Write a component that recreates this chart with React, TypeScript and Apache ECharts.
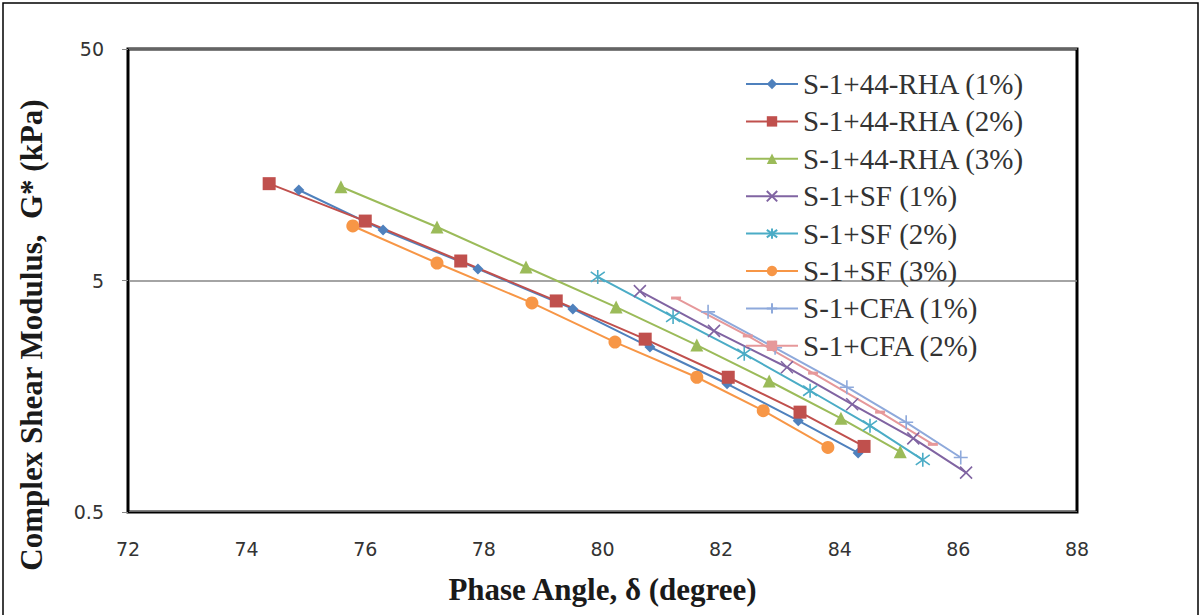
import React, { useEffect, useRef } from "react";
import * as echarts from "echarts";

const xTicks = [72, 88];
const yTickValues = [0.5, 5, 50];

const names = [
  "S-1+44-RHA (1%)",
  "S-1+44-RHA (2%)",
  "S-1+44-RHA (3%)",
  "S-1+SF (1%)",
  "S-1+SF (2%)",
  "S-1+SF (3%)",
  "S-1+CFA (1%)",
  "S-1+CFA (2%)",
];

const rha1X = [74.88, 76.3, 77.9, 79.5, 80.8, 82.1, 83.3, 84.31];
const rha1Y = [12.3, 8.26, 5.61, 3.77, 2.58, 1.79, 1.24, 0.9];

const rha2X = [74.38, 76.0, 77.61, 79.22, 80.72, 82.12, 83.33, 84.41];
const rha2Y = [13.1, 9.03, 6.07, 4.08, 2.79, 1.91, 1.35, 0.96];

const rha3X = [75.59, 77.21, 78.71, 80.23, 81.59, 82.81, 84.02, 85.02];
const rha3Y = [12.7, 8.51, 5.72, 3.84, 2.63, 1.84, 1.27, 0.91];

const sf1X = [80.63, 81.88, 83.11, 84.21, 85.24, 86.13];
const sf1Y = [4.5, 3.03, 2.11, 1.46, 1.04, 0.74];

const sf2X = [79.92, 81.19, 82.39, 83.5, 84.51, 85.4];
const sf2Y = [5.18, 3.48, 2.41, 1.67, 1.18, 0.84];

const sf3X = [75.79, 77.21, 78.81, 80.21, 81.59, 82.71, 83.8];
const sf3Y = [8.6, 5.95, 4.0, 2.71, 1.91, 1.37, 0.95];

const cfa1X = [81.78, 82.91, 84.12, 85.12, 86.04];
const cfa1Y = [3.66, 2.56, 1.73, 1.22, 0.86];

const cfa2X = [81.24, 82.45, 83.55, 84.68, 85.57];
const cfa2Y = [4.2, 2.88, 1.99, 1.35, 0.98];

const colors = ["#4F81BD", "#C0504D", "#9BBB59", "#8064A2", "#4BACC6", "#F79646", "#8EA9DB", "#E6989A"];

const xTitle = "Phase Angle, δ (degree)";
const yTitle = "Complex Shear Modulus,  G* (kPa)";

const pair = (xs: number[], ys: number[]) => xs.map((x, i) => [x, ys[i]]);

export default function App() {
  const ref = useRef<HTMLDivElement>(null);
  useEffect(() => {
    if (!ref.current) return;
    const chart = echarts.init(ref.current, null, { renderer: "svg" });
    const datasets = [
      pair(rha1X, rha1Y),
      pair(rha2X, rha2Y),
      pair(rha3X, rha3Y),
      pair(sf1X, sf1Y),
      pair(sf2X, sf2Y),
      pair(sf3X, sf3Y),
      pair(cfa1X, cfa1Y),
      pair(cfa2X, cfa2Y),
    ];
    const symbols: any[] = [
      ["diamond", 11],
      ["rect", 13],
      ["triangle", 13],
      ["path://M0,0L10,10M10,0L0,10", 12],
      ["path://M0,0L10,10M10,0L0,10M5,-2L5,12", 14],
      ["circle", 13],
      ["path://M6,0L6,12M0,6L12,6", 14],
      ["rect", [10, 3]],
    ];
    const strokeMarkers = [false, false, false, true, true, false, true, false];
    const series = datasets.map((d, i) => ({
      name: names[i],
      type: "line",
      data: d,
      symbol: symbols[i][0],
      symbolSize: symbols[i][1],
      showSymbol: true,
      lineStyle: { color: colors[i], width: 2 },
      itemStyle: strokeMarkers[i]
        ? { color: colors[i], borderColor: colors[i], borderWidth: 1.6 }
        : { color: colors[i], borderWidth: 0 },
      z: 3,
    }));
    chart.setOption({
      animation: false,
      backgroundColor: "#ffffff",
      grid: {
        left: 128,
        top: 49,
        right: 124,
        bottom: 103,
        show: true,
        borderColor: "#000000",
        borderWidth: 3,
      },
      xAxis: {
        type: "value",
        min: xTicks[0],
        max: xTicks[1],
        interval: 2,
        name: xTitle,
        nameLocation: "middle",
        nameGap: 62,
        nameTextStyle: {
          fontFamily: "Liberation Serif",
          fontWeight: "bold",
          fontSize: 31,
          color: "#1a1a1a",
        },
        axisLine: { show: true, lineStyle: { color: "#000", width: 1 } },
        axisTick: { show: false },
        splitLine: { show: false },
        axisLabel: {
          margin: 27,
          fontFamily: "DejaVu Sans",
          fontSize: 19,
          color: "#333333",
        },
      },
      yAxis: {
        type: "log",
        logBase: 10,
        min: yTickValues[0],
        max: yTickValues[2],
        axisLine: { show: true, lineStyle: { color: "#000", width: 1 } },
        axisTick: {
          show: true,
          customValues: yTickValues,
          length: 6,
          lineStyle: { color: "#868686" },
        },
        axisLabel: {
          customValues: yTickValues,
          margin: 24,
          fontFamily: "DejaVu Sans",
          fontSize: 19,
          color: "#333333",
          formatter: (v: number) => String(+Number(v).toPrecision(3)),
        },
        splitLine: { show: true, lineStyle: { color: "#868686", width: 1.5 } },
        minorSplitLine: { show: false },
      },
      legend: {
        orient: "vertical",
        left: 745,
        top: 69,
        padding: 0,
        itemWidth: 52,
        itemHeight: 13,
        itemGap: 7.4,
        data: names,
        textStyle: {
          fontFamily: "Liberation Serif",
          fontSize: 29,
          color: "#333333",
          lineHeight: 30,
        },
      },
      graphic: [
        {
          type: "rect",
          shape: { x: 3, y: 3, width: 1195, height: 640 },
          style: { fill: "none", stroke: "#000", lineWidth: 1.5 },
          silent: true,
          z: -1,
        },
        {
          type: "text",
          x: 31,
          y: 335,
          rotation: Math.PI / 2,
          style: {
            text: yTitle,
            fontFamily: "Liberation Serif",
            fontWeight: "bold",
            fontSize: 31,
            fill: "#1a1a1a",
            align: "center",
            verticalAlign: "middle",
          },
          silent: true,
        },
      ],
      series,
    });
    return () => chart.dispose();
  }, []);
  return (
    <div
      ref={ref}
      style={{ position: "absolute", left: 0, top: 0, width: 1201, height: 615 }}
    />
  );
}
